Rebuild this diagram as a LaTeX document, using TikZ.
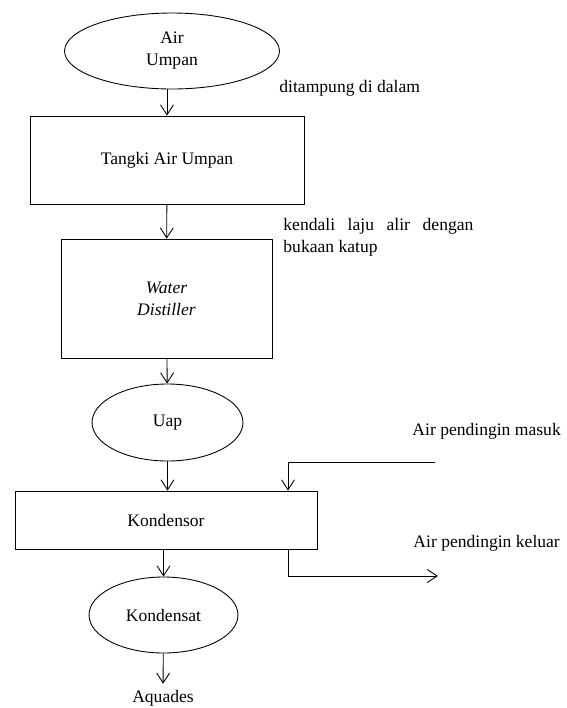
\documentclass[tikz,border=0pt]{standalone}
\usepackage{fontspec}
\setmainfont{Liberation Serif}
\usetikzlibrary{
    arrows.meta,
    shapes,
    calc,
    positioning
}
\tikzset{
    blok/.style={draw, rectangle, inner sep=0pt},
    lonjong/.style={draw, ellipse, inner sep=0pt},
    ket/.style={anchor=west, inner sep=0pt, align=left}
}

\begin{document}
\begin{tikzpicture}[x=0.02cm, y=-0.02cm, line width=0.5pt, >={Straight Barb[length=2mm,width=2.6mm]}, font=\fontsize{10}{12.5}\selectfont]
                        \useasboundingbox (0, 0) rectangle (566, 708);

                        \node[lonjong, minimum width=4.3cm, minimum height=1.52cm, align=center] (umpan) at (172, 51) {Air\\Umpan};
                        \node[blok, minimum width=5.48cm, minimum height=1.76cm] (tangki) at (167, 160) {Tangki Air Umpan};
                        \node[blok, minimum width=4.22cm, minimum height=2.38cm, align=center] (distiller) at (166.5, 298.5) {\textit{Water}\\\textit{Distiller}};
                        \node[lonjong, minimum width=3.02cm, minimum height=1.54cm] (uap) at (167.5, 422.5) {Uap};
                        \node[blok, minimum width=6.04cm, minimum height=1.16cm] (kondensor) at (166, 520) {Kondensor};
                        \node[lonjong, minimum width=2.98cm, minimum height=1.52cm] (kondensat) at (163.5, 615) {Kondensat};
                        \node (aquades) at (163, 698) {Aquades};

                        \node[ket] (tampung) at (279, 88) {ditampung di dalam};
                        \node[ket] (kendali) at (283, 237) {\makebox[3.8cm][s]{kendali laju alir dengan}\\bukaan katup};
                        \node[ket] (masuk) at (412, 431) {Air pendingin masuk};
                        \node[ket] (keluar) at (413, 543) {Air pendingin keluar};

                        \coordinate (masuk0) at (435, 462);
                        \coordinate (keluar0) at (438, 576);

                        \draw
                        (umpan.south -| tangki.north) edge[->] (tangki.north)
                        (tangki) edge[->] (distiller)
                        (distiller) edge[->] (uap)
                        (uap.south) edge[->] (uap.south |- kondensor.north)
                        (kondensor.south -| kondensat.north) edge[->] (kondensat.north)
                        (kondensat) edge[->] (aquades);

                        \draw[->] (masuk0) -- (masuk0 -| 288, 0) -- (kondensor.north -| 288, 0);
                        \draw[->] (kondensor.south -| 288, 0) -- (keluar0 -| 288, 0) -- (keluar0);
                    \end{tikzpicture}
\end{document}
